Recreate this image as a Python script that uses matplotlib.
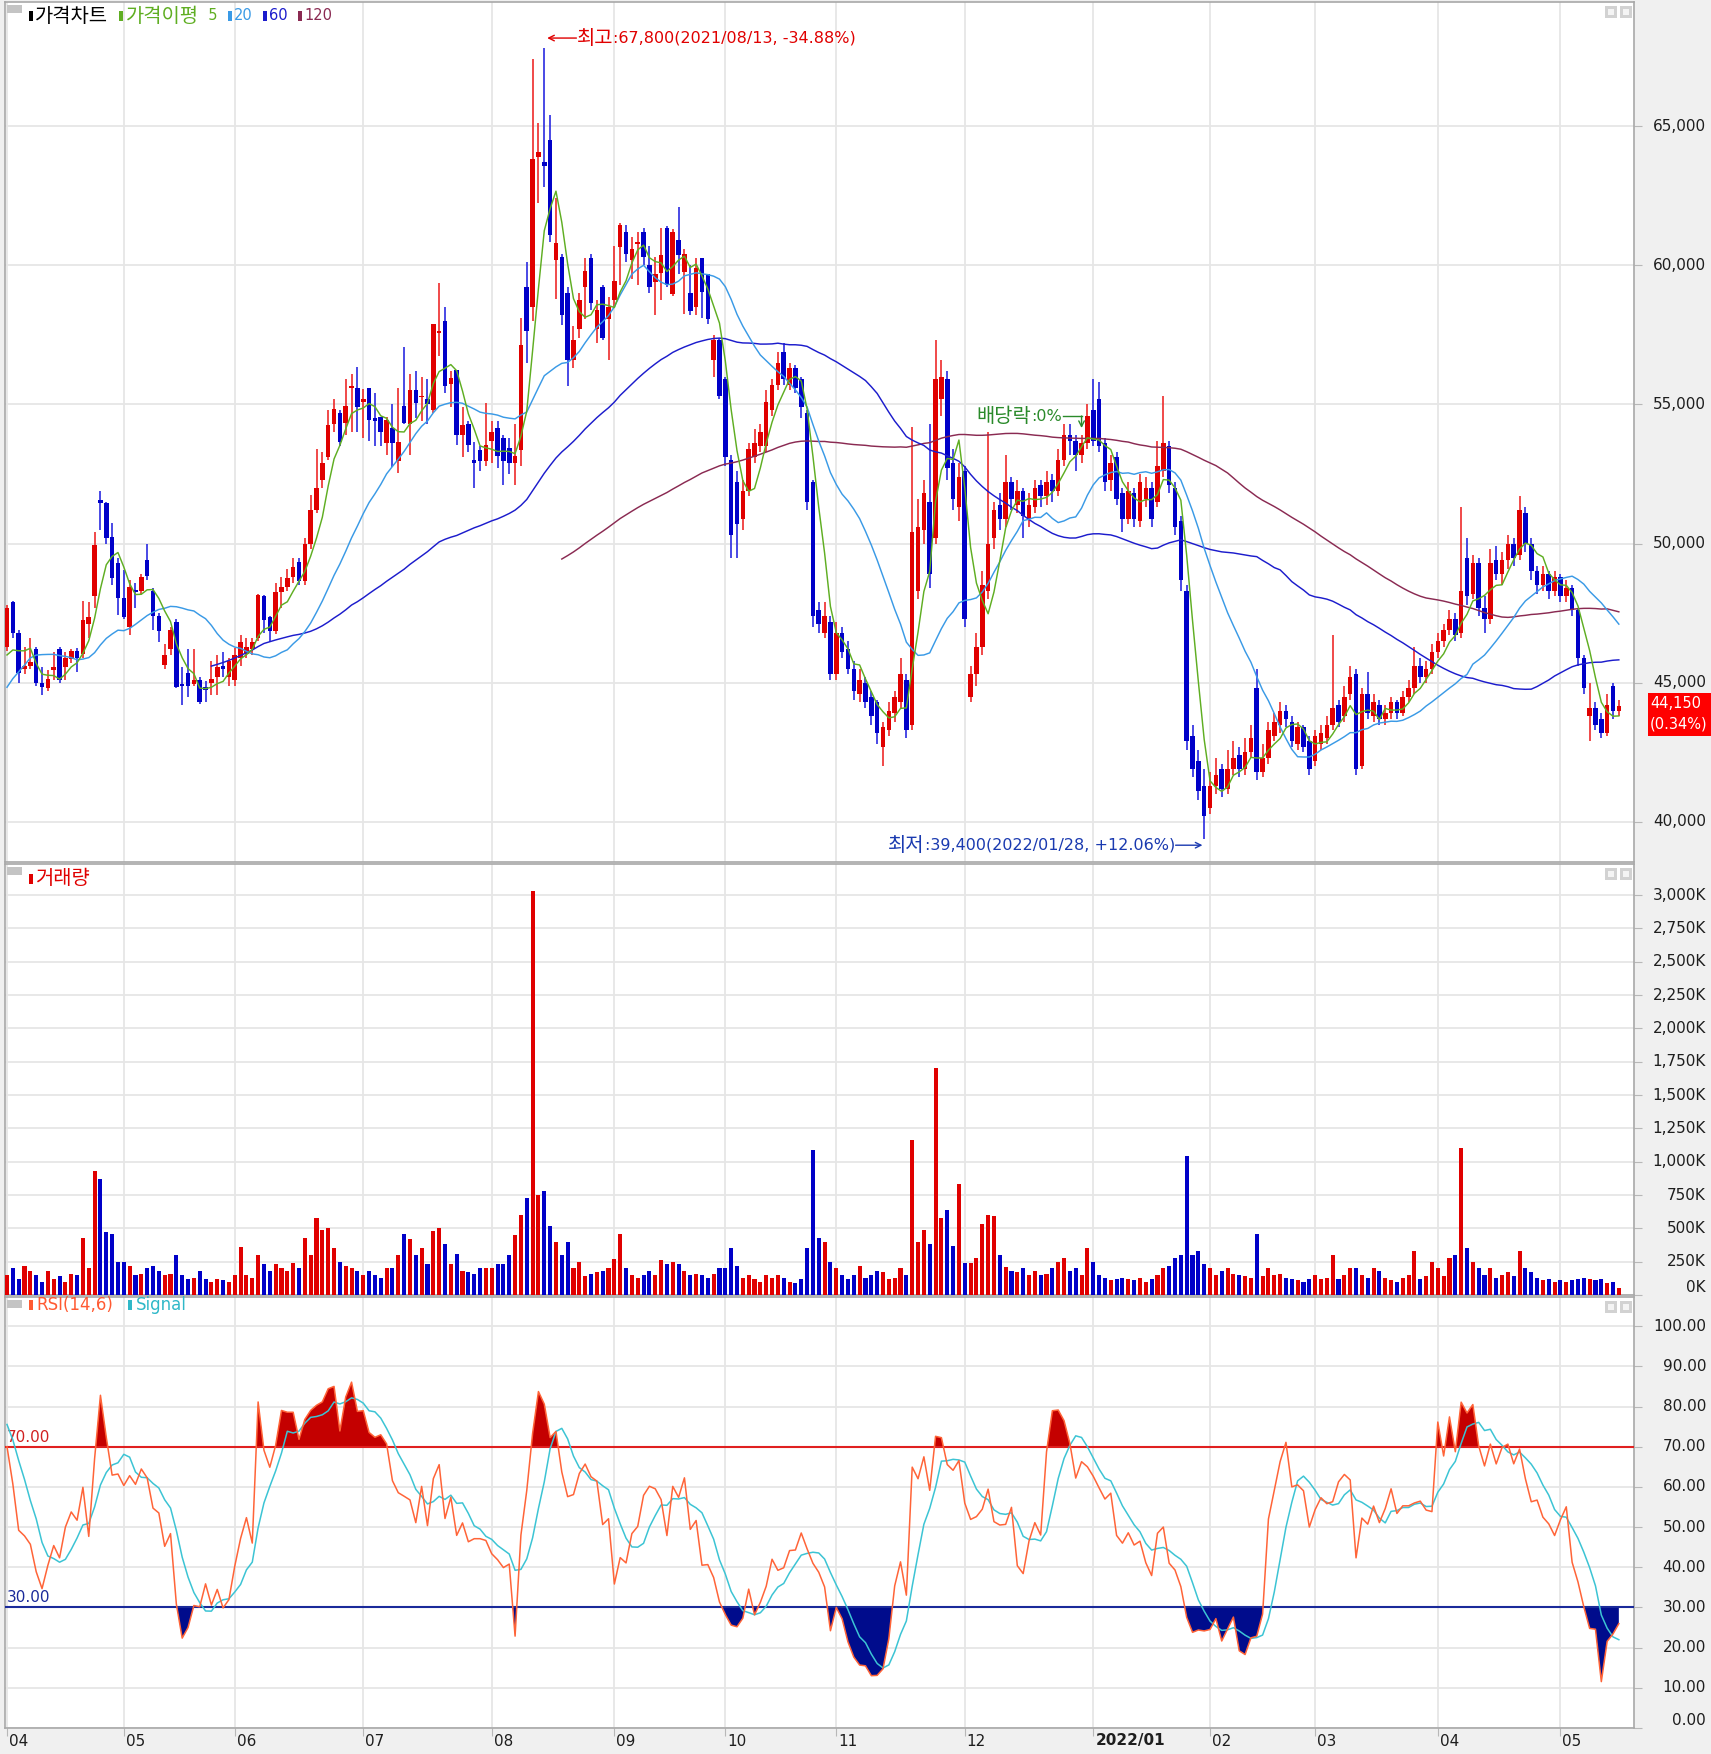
import numpy as np
import pandas as pd
import matplotlib
matplotlib.use('Agg')
import matplotlib.pyplot as plt
from matplotlib.patches import Rectangle
from matplotlib import font_manager
import matplotlib.transforms as mtransforms

# ---------------- data ----------------
month_labels = ['04', '05', '06', '07', '08', '09', '10', '11', '12', '2022/01', '02', '03', '04', '05']
month_start_idx = [0, 20, 39, 61, 83, 104, 123, 142, 164, 186, 206, 224, 245, 266]

# closes of the bars loaded before the visible window (only feed the averages / RSI)
pre_close = [41800, 41500, 41200, 41000, 40800, 40600, 40500, 40700, 40600, 43000, 44500, 45000,
             45500, 46000, 46500, 47000, 47500, 46700, 46300, 46400, 45900, 45500, 45600, 45300]

opens = [
    46300, 47900, 46800, 45500, 45600, 46200, 45000, 44800, 45450, 46200, 45550, 45850, 46150, 46050, 47100, 48100, 51550, 51450, 50250, 49300,
    48050, 47000, 48350, 48300, 49400, 48300, 47400, 45650, 46200, 47200, 44950, 45350, 44950, 45100, 44850, 45000, 45200, 45600, 45200,
    45100, 45900, 46050, 46200, 46600, 48100, 47350, 46850, 48250, 48450, 48800, 49350, 48650, 50000, 51200, 52300, 53100, 54300, 54700, 54350, 55600, 55600,
    55100, 55600, 54500, 54550, 53600, 54150, 52950, 54950, 54300, 55500, 55250, 55200, 54800, 57550, 58000, 55750, 56250, 53900, 54300, 53000, 53350, 52950,
    53700, 54150, 53800, 53450, 52900, 53350, 59200, 58500, 63900, 63700, 64500, 60200, 60300, 59000, 56600, 57700, 59200, 60250, 57700, 59200, 58050,
    58750, 60650, 61200, 60200, 60750, 61200, 60000, 59400, 59720, 61330, 58950, 60900, 59750, 59000, 58500, 60250, 59700, 56600, 57300,
    55900, 53000, 52200, 50900, 51900, 53100, 53500, 53500, 54800, 55700, 56900, 55700, 56300, 55900, 54700, 52200, 47600, 46800, 47200,
    45300, 46800, 46200, 45500, 44600, 45000, 44500, 44300, 42700, 43300, 43900, 44300, 45100, 43500, 48300, 50500, 51500, 50200, 55200, 55900, 52900, 51300,
    52600, 44500, 45300, 46300, 48300, 50200, 51400, 50900, 52200, 51400, 51900, 50900, 51300, 52100, 51700, 52300, 51900, 53000, 53900, 53700, 53200, 53600,
    54800, 55200, 53600, 52300, 53100, 51800, 50900, 51800, 50800, 51600, 52000, 51500, 52600, 53500, 52000, 50800, 48300, 43100, 42200, 41300,
    40500, 41300, 41900, 41200, 41900, 42400, 41900, 42500, 44800, 41800, 42300, 43100, 43500, 44000, 43600, 42800, 43400, 42900,
    42200, 42800, 43000, 43500, 44200, 43800, 44600, 45300, 42000, 44600, 43800, 44200, 43700, 43900, 44300, 43900, 44500, 44800, 45600, 45200, 45500,
    46100, 46500, 46900, 47300, 46800, 49500, 48200, 49300, 47700, 47300, 49400, 48900, 49400, 50000, 49600, 51100, 50000, 49000, 48500, 48900, 48300,
    48800, 48100, 48400, 47600, 45900, 43800, 44100, 43700, 43200, 44900, 44000]

highs = [
    47800, 47950, 46900, 46300, 46600, 46300, 45550, 45450, 46100, 46300, 46100, 46200, 46250, 47950, 47900, 50400, 51900, 51500, 50750, 49500,
    49050, 48700, 48600, 48900, 50000, 48400, 47500, 46400, 47000, 47300, 45550, 46200, 46200, 45200, 45050, 45800, 46000, 46100, 45900,
    46250, 46700, 46600, 46600, 48200, 48150, 47400, 48600, 48800, 49100, 49500, 49500, 50200, 51750, 53400, 53300, 54800, 55200, 54800, 55900, 56100, 56350,
    55550, 55600, 55400, 54550, 54550, 55000, 55600, 57050, 56100, 56200, 56000, 55900, 57900, 59350, 58500, 56200, 56250, 54900, 54400, 53650, 53500, 55050,
    54400, 54400, 53900, 53800, 54300, 58100, 60100, 67400, 65100, 67800, 65400, 62400, 60400, 59200, 57800, 59000, 60250, 60400, 58750, 59300, 58850,
    60700, 61500, 61450, 61000, 61200, 61350, 60700, 60300, 61350, 61400, 61300, 62100, 60600, 60000, 60250, 60250, 59700, 57500, 57400,
    56000, 53200, 52600, 52300, 53600, 54100, 54300, 55500, 55900, 56900, 57200, 56500, 56400, 56000, 54800, 52300, 47900, 47900, 47400,
    47200, 47000, 46500, 45800, 45500, 45200, 44700, 44400, 43600, 44300, 44700, 45900, 45300, 54200, 51600, 52300, 54300, 57300, 56600, 56200, 53400, 52900,
    52800, 45600, 46800, 49000, 54000, 51500, 51800, 53200, 52400, 52300, 52000, 51800, 52300, 52300, 52600, 52500, 53400, 54300, 54300, 53900, 53900, 55000,
    55900, 55800, 53800, 53200, 53300, 52000, 52200, 52000, 52500, 52400, 52200, 53700, 55300, 53700, 52200, 51000, 48500, 43500, 42600, 41900,
    41800, 42300, 42100, 42600, 42900, 42700, 43000, 43500, 45500, 42800, 43600, 43900, 44300, 44200, 43800, 43600, 43500, 43100,
    43300, 43500, 43800, 46700, 44400, 44900, 45600, 45500, 44800, 45400, 44600, 44400, 44200, 44500, 44400, 44700, 45100, 46300, 45900, 45800, 46400,
    46800, 47100, 47600, 47500, 51300, 50200, 49600, 49500, 48100, 49800, 49900, 49700, 50300, 50200, 51700, 51300, 50200, 49200, 49200, 49000, 49000,
    48900, 48700, 48500, 47700, 46000, 45000, 44300, 43900, 44600, 45000, 44400]

lows = [
    46150, 46600, 45000, 45300, 45500, 44900, 44550, 44700, 45100, 45000, 45100, 45700, 45400, 45900, 46600, 47700, 50500, 50000, 48500, 47450,
    47300, 46700, 47700, 48200, 48700, 46900, 46450, 45500, 46000, 44800, 44200, 44500, 44900, 44250, 44300, 44550, 44550, 45200, 44900,
    44900, 45600, 45900, 46000, 46500, 46800, 46450, 46750, 47700, 48300, 48600, 48500, 48500, 49800, 51100, 52000, 53000, 54000, 53500, 53900, 54000, 54000,
    53800, 53700, 53500, 53500, 53200, 52750, 52550, 54300, 53200, 54500, 54400, 54300, 54700, 56750, 55400, 54900, 53550, 53100, 53300, 52000, 52600, 52800,
    52900, 52700, 52100, 52500, 52100, 52800, 56500, 58000, 62250, 62800, 60850, 58800, 57850, 55650, 56300, 57400, 58050, 58400, 57200, 57300, 56600,
    58500, 59300, 60100, 59500, 59300, 60000, 59000, 58200, 58750, 59200, 58900, 59700, 58250, 58200, 58200, 58100, 57900, 56000, 55200,
    52800, 49500, 49500, 50500, 51700, 52900, 53300, 53300, 54600, 55500, 55700, 55500, 55400, 54500, 51200, 47000, 46800, 46600, 45100,
    45100, 45900, 45300, 44400, 44300, 44100, 43500, 42800, 42000, 43100, 43600, 44100, 43000, 43300, 48000, 50000, 48400, 50000, 54600, 52300, 51200, 50800,
    47000, 44300, 44900, 46000, 48000, 49800, 50500, 50600, 51200, 51100, 50200, 50600, 51100, 51300, 51400, 51500, 51700, 52800, 53200, 52600, 52900, 53400,
    53500, 53300, 51900, 51900, 51400, 50400, 50700, 50600, 50600, 51300, 50600, 51300, 52400, 51800, 50300, 48300, 42600, 41600, 40800, 39400,
    40300, 41000, 40900, 41000, 41700, 41600, 41700, 42300, 41500, 41600, 42100, 42900, 43200, 43400, 42700, 42600, 42500, 41700,
    42000, 42600, 42800, 43300, 43400, 43600, 44400, 41700, 41900, 43700, 43600, 43500, 43500, 43700, 43700, 43800, 44300, 44600, 45000, 45000, 45300,
    45900, 46300, 46700, 46500, 46600, 47800, 48000, 47400, 46800, 47100, 48700, 48500, 49100, 49200, 49400, 49700, 48700, 48200, 48300, 48000, 48100,
    47900, 47900, 47400, 45600, 44600, 42900, 43300, 43000, 43100, 43700, 43800]

closes = [
    47700, 46800, 45350, 45600, 45750, 45000, 44850, 45150, 45550, 45100, 45900, 46150, 45900, 47250, 47350, 49950, 51450, 50200, 48750, 48050,
    47350, 48450, 48250, 48800, 48850, 47400, 46850, 46000, 46900, 44850, 44900, 44900, 45100, 44300, 44750, 45150, 45550, 45500, 45800,
    46000, 46450, 46300, 46450, 48150, 47250, 46850, 48250, 48450, 48750, 49150, 48650, 50000, 51200, 52000, 52900, 54250, 54850, 53650, 54950, 55650, 54900,
    55200, 54450, 54400, 54000, 54450, 53600, 53650, 54350, 55500, 55050, 55300, 55000, 57900, 57650, 55650, 55950, 53900, 54250, 53550, 52900, 52950, 53550,
    54000, 53150, 52950, 52900, 53150, 57150, 57650, 63800, 64050, 63550, 61100, 60800, 58200, 56600, 57300, 58750, 59800, 58650, 58400, 57400, 58500,
    59450, 61450, 60400, 60600, 60850, 60300, 59200, 59700, 60370, 59300, 61200, 60350, 60400, 58350, 59900, 59050, 58050, 57300, 55300,
    53100, 50300, 50700, 51900, 53400, 53600, 54000, 55100, 55700, 56500, 55900, 56300, 55600, 54900, 51500, 47400, 47100, 47400, 45300,
    46800, 46100, 45500, 44700, 45100, 44300, 43800, 43200, 43400, 44000, 44500, 45300, 43300, 50400, 50600, 51800, 48900, 55900, 56000, 52700, 51600, 52400,
    47300, 45300, 46300, 48500, 50000, 51200, 50900, 52200, 51600, 51900, 51000, 51400, 52000, 51700, 52200, 51900, 53000, 53900, 53700, 53200, 53600, 54600,
    53700, 53500, 52200, 52900, 51600, 50900, 51900, 50900, 52200, 52000, 50900, 52800, 53600, 52100, 50600, 48700, 42900, 41900, 41100, 40200,
    41300, 41700, 41200, 41900, 42300, 41900, 42500, 43000, 41800, 42300, 43300, 43600, 44000, 43700, 42900, 43400, 42700, 41900,
    43100, 43200, 43500, 44100, 43600, 44500, 45200, 41900, 44600, 43900, 44300, 43700, 43900, 44300, 43900, 44500, 44800, 45600, 45200, 45500, 46100,
    46500, 46900, 47300, 46700, 48300, 48100, 49300, 47700, 47300, 49300, 48900, 49400, 50000, 49500, 51200, 50000, 49000, 48500, 48900, 48300, 48800,
    48100, 48400, 47600, 45900, 44800, 44100, 43500, 43200, 44200, 44000, 44150]

volumes_k = [
    150, 200, 120, 220, 180, 150, 100, 180, 120, 140, 100, 160, 150, 430, 200, 930, 870, 470, 460, 250,
    250, 220, 150, 160, 200, 220, 180, 150, 160, 300, 150, 120, 130, 180, 120, 100, 120, 110, 100,
    150, 360, 150, 130, 300, 230, 180, 230, 200, 180, 240, 200, 430, 300, 580, 490, 500, 350, 250, 220, 200, 180,
    150, 180, 150, 130, 200, 200, 300, 460, 420, 300, 350, 230, 480, 500, 380, 230, 310, 180, 170, 160, 200, 200,
    200, 230, 230, 300, 450, 600, 730, 3030, 750, 780, 520, 400, 300, 400, 200, 250, 140, 160, 170, 180, 200,
    270, 460, 200, 150, 130, 150, 180, 150, 260, 230, 250, 230, 180, 150, 160, 150, 130, 160, 200,
    200, 350, 220, 130, 150, 120, 100, 150, 130, 150, 130, 100, 90, 120, 350, 1090, 430, 400, 250,
    200, 150, 120, 150, 220, 130, 150, 180, 170, 120, 130, 200, 150, 1160, 400, 490, 380, 1700, 580, 640, 370, 830,
    240, 240, 280, 530, 600, 590, 300, 210, 180, 170, 200, 150, 180, 150, 160, 200, 250, 280, 180, 200, 150, 350,
    250, 150, 130, 110, 120, 130, 120, 110, 130, 100, 120, 150, 200, 220, 280, 300, 1040, 300, 330, 230,
    200, 150, 180, 200, 160, 150, 140, 130, 460, 140, 200, 150, 160, 130, 120, 110, 100, 120,
    150, 120, 130, 300, 120, 150, 200, 200, 150, 130, 200, 180, 130, 110, 100, 130, 150, 330, 120, 140, 250,
    200, 140, 280, 300, 1100, 350, 250, 200, 150, 200, 130, 150, 170, 140, 330, 200, 170, 130, 110, 120, 100,
    110, 100, 110, 120, 130, 120, 110, 120, 90, 100, 50]

high_date = '2021/08/13'
low_date = '2022/01/28'
ex_div_idx = 184

# ---------------- indicators ----------------
npre = len(pre_close)
s = pd.Series(np.array(pre_close + closes, dtype=float))
ma = {k: s.rolling(k).mean().to_numpy()[npre:] for k in (5, 20, 60, 120)}
d = s.diff()
up = d.clip(lower=0).rolling(14).mean()
dn = (-d.clip(upper=0)).rolling(14).mean()
rsi_all = 100 * up / (up + dn)
rsi = rsi_all.to_numpy()[npre:]
sig = rsi_all.rolling(6).mean().to_numpy()[npre:]

O = np.array(opens, float); Hh = np.array(highs, float); L = np.array(lows, float); C = np.array(closes, float)
V = np.array(volumes_k, float)
n = len(C)
idx = np.arange(n)

# ---------------- fonts ----------------
W, H = 1711, 1754
names = {f.name for f in font_manager.fontManager.ttflist}
HAS_NARROW = 'Liberation Sans Narrow' in names
NARROW = 'Liberation Sans Narrow' if HAS_NARROW else 'DejaVu Sans'
KR = 'Noto Sans CJK KR'
FAM = [NARROW, KR, 'DejaVu Sans']
plt.rcParams['font.family'] = FAM
LBL_FS = 14.5 if HAS_NARROW else 11
ASC_FS = 13 if HAS_NARROW else 10.5      # small ascii legend text
ANN_FS = 15.5 if HAS_NARROW else 11.5    # ascii part of annotations
KFS = 14.3                               # hangul text
RSI_LEG_FS = 16.5 if HAS_NARROW else 12

RED = '#e00000'; BLUE = '#0000c8'
C5 = '#5fae22'; C20 = '#3a9ae6'; C60 = '#1c1ccc'; C120 = '#8a2a52'
GRID = '#e6e6e6'; SPINE = '#a8a8a8'

fig = plt.figure(figsize=(W / 100, H / 100), dpi=100, facecolor='#f0f0f0')
renderer = fig.canvas.get_renderer()


def axes_px(x0, y0, x1, y1):
    return fig.add_axes([x0 / W, 1 - y1 / H, (x1 - x0) / W, (y1 - y0) / H])


X0, X1 = 5, 1634
PANELS = {'p': (2, 862), 'v': (864, 1295), 'r': (1297, 1728)}
ax_p = axes_px(X0, PANELS['p'][0], X1, PANELS['p'][1])
ax_v = axes_px(X0, PANELS['v'][0], X1, PANELS['v'][1])
ax_r = axes_px(X0, PANELS['r'][0], X1, PANELS['r'][1])

BAR_PX = 5.84
FIRST_PX = 7
xlim = ((X0 - FIRST_PX) / BAR_PX, (X1 - FIRST_PX) / BAR_PX)

WON_PX = 35.92          # won per pixel, 40,000 sits at y=822 px
def price_at(ypx):
    return 40000 + (822 - ypx) * WON_PX
price_lim = (price_at(PANELS['p'][1]), price_at(PANELS['p'][0]))
vol_lim = (0, (PANELS['v'][1] - PANELS['v'][0]) * 7.5)
rsi_lim = (100 - (1726 - PANELS['r'][1]) * 0.25, 100 + (1326 - PANELS['r'][0]) * 0.25)

price_ticks = [40000, 45000, 50000, 55000, 60000, 65000]
vol_ticks = list(range(0, 3001, 250))
rsi_ticks = list(range(0, 101, 10))

for ax, yl, yt in ((ax_p, price_lim, price_ticks), (ax_v, vol_lim, vol_ticks), (ax_r, rsi_lim, rsi_ticks)):
    ax.set_facecolor('white')
    ax.set_xlim(*xlim)
    ax.set_ylim(*yl)
    ax.set_xticks(month_start_idx)
    ax.set_yticks(yt)
    ax.grid(True, color=GRID, lw=1.3, zorder=0)
    ax.set_axisbelow(True)
    ax.yaxis.set_ticks_position('right')
    ax.tick_params(axis='y', which='both', length=6, color='#b8b8b8', labelright=False, labelleft=False)
    ax.tick_params(axis='x', which='both', length=0, labelbottom=False)
    for sp in ax.spines.values():
        sp.set_color(SPINE)
        sp.set_linewidth(1.2)
ax_r.tick_params(axis='x', length=6, color='#b8b8b8', direction='out')


def mixed_text(x_px, y_px, parts, color, ha='left', z=21):
    """Draw consecutive text pieces (different sizes) on one line; coords in px from top-left."""
    objs = [fig.text(0, 0, s_, fontsize=fs, color=color, ha='left', va='center', family=FAM, zorder=z)
            for s_, fs in parts]
    widths = [t.get_window_extent(renderer).width for t in objs]
    x = x_px - (sum(widths) if ha == 'right' else 0)
    for t, w_ in zip(objs, widths):
        t.set_position((x / W, 1 - y_px / H))
        x += w_
    return x


def data_px(ax, xv, yv):
    dx, dy = ax.transData.transform((xv, yv))
    return dx, H - dy


# ---------------- price panel ----------------
is_up = C >= O
col = np.where(is_up, RED, BLUE)
wick_col = np.where(is_up, '#ee2a2a', '#2a2ae0')
ax_p.vlines(idx, L, Hh, colors=wick_col, lw=1.2, zorder=3)
body_bottom = np.minimum(O, C)
body_h = np.maximum(np.abs(C - O), 45)
ax_p.bar(idx, body_h, bottom=body_bottom, width=0.78, color=col, lw=0, zorder=4)
for k, c in ((120, C120), (60, C60), (20, C20), (5, C5)):
    ax_p.plot(idx, ma[k], color=c, lw=1.05, zorder=5)

# high / low annotations
i_hi = int(np.argmax(Hh)); hi = int(Hh[i_hi])
i_lo = int(np.argmin(L)); lo = int(L[i_lo])
last = int(C[-1]); prev = int(C[-2])
y_hi = hi + 10 * WON_PX
ax_p.annotate('', xy=(i_hi + 0.5, y_hi), xytext=(i_hi + 5.5, y_hi),
              arrowprops=dict(arrowstyle='->', color=RED, lw=1.0, shrinkA=0, shrinkB=0))
tx, ty = data_px(ax_p, i_hi + 5.6, y_hi)
mixed_text(tx, ty, [('최고', KFS), (f':{hi:,}({high_date}, {(last / hi - 1) * 100:+.2f}%)', ANN_FS)], RED)

LOWC = '#1a3ab0'
y_lo = lo - 6.5 * WON_PX
ax_p.annotate('', xy=(i_lo - 0.3, y_lo), xytext=(i_lo - 4.9, y_lo),
              arrowprops=dict(arrowstyle='->', color=LOWC, lw=1.0, shrinkA=0, shrinkB=0))
tx, ty = data_px(ax_p, i_lo - 5.0, y_lo)
mixed_text(tx, ty, [('최저', KFS), (f':{lo:,}({low_date}, {(last / lo - 1) * 100:+.2f}%)', ANN_FS)], LOWC, ha='right')

# ex-dividend marker
GREEN_T = '#2a8a2a'
y_div = Hh[ex_div_idx] + 19 * WON_PX
ax_p.plot([ex_div_idx - 3.2, ex_div_idx], [y_div, y_div], color=GREEN_T, lw=1.0)
ax_p.annotate('', xy=(ex_div_idx, y_div - 12 * WON_PX), xytext=(ex_div_idx, y_div),
              arrowprops=dict(arrowstyle='->', color=GREEN_T, lw=1.0, shrinkA=0, shrinkB=0))
tx, ty = data_px(ax_p, ex_div_idx - 3.3, y_div)
mixed_text(tx, ty, [('배당락', KFS), (':0%', ANN_FS)], GREEN_T, ha='right')

# ---------------- volume panel ----------------
ax_v.bar(idx, V, width=0.7, color=col, lw=0, zorder=3)

# ---------------- RSI panel ----------------
ax_r.fill_between(idx, rsi, 70, where=rsi > 70, interpolate=True, color='#c40000', lw=0, zorder=2)
ax_r.fill_between(idx, rsi, 30, where=rsi < 30, interpolate=True, color='#000c8c', lw=0, zorder=2)
ax_r.axhline(70, color='#e02020', lw=1.5, zorder=3)
ax_r.axhline(30, color='#1a2a9a', lw=1.5, zorder=3)
ax_r.plot(idx, sig, color='#3cc4d4', lw=1.1, zorder=4)
ax_r.plot(idx, rsi, color='#ff6438', lw=1.1, zorder=5)
ax_r.text(xlim[0] + 0.3, 70.5, '70.00', color='#d02020', fontsize=LBL_FS, ha='left', va='bottom')
ax_r.text(xlim[0] + 0.3, 30.5, '30.00', color='#1a2a9a', fontsize=LBL_FS, ha='left', va='bottom')

# ---------------- right-side labels ----------------
RX = 1706 / W
for ax, ticks, fmt in ((ax_p, price_ticks, lambda v: f'{v:,}'),
                       (ax_v, vol_ticks, lambda v: f'{v:,}K'),
                       (ax_r, rsi_ticks, lambda v: f'{v:.2f}')):
    tr = mtransforms.blended_transform_factory(fig.transFigure, ax.transData)
    for v in ticks:
        va = 'bottom' if (v == 0 and ax is not ax_p) else 'center'
        ax.text(RX, v, fmt(v), transform=tr, ha='right', va=va, fontsize=LBL_FS, color='#1e1e1e', clip_on=False)

# current price box
trp = mtransforms.blended_transform_factory(fig.transFigure, ax_p.transData)
box_top = last + 13.5 * WON_PX
box_bot = last - 29.5 * WON_PX
ax_p.add_patch(Rectangle((1648 / W, box_bot), 63 / W, box_top - box_bot, transform=trp,
                         facecolor='#ff0000', edgecolor='none', clip_on=False, zorder=10))
ax_p.text(1650 / W, last + 3 * WON_PX, f'{last:,}', transform=trp, color='white', fontsize=LBL_FS - 0.5,
          ha='left', va='center', clip_on=False, zorder=11)
ax_p.text(1650 / W, last - 18 * WON_PX, f'({(last / prev - 1) * 100:.2f}%)', transform=trp, color='white',
          fontsize=LBL_FS - 0.5, ha='left', va='center', clip_on=False, zorder=11)

# ---------------- month labels ----------------
trx = mtransforms.blended_transform_factory(ax_r.transData, fig.transFigure)
for m, lab in zip(month_start_idx, month_labels):
    ax_r.text(m + 0.35, 1 - 1741 / H, lab, transform=trx, ha='left', va='center', fontsize=LBL_FS,
              color='#1e1e1e', fontweight='bold' if '/' in lab else 'normal', clip_on=False)

# ---------------- panel headers / legends ----------------
def rect_px(x0, y0, x1, y1, color, z=20):
    fig.patches.append(Rectangle((x0 / W, 1 - y1 / H), (x1 - x0) / W, (y1 - y0) / H,
                                 transform=fig.transFigure, facecolor=color, edgecolor='none', zorder=z))

for top in (PANELS['p'][0], PANELS['v'][0], PANELS['r'][0]):
    rect_px(7, top + 3, 22, top + 11, '#c4c4c4')
    for xx in (1605, 1620):
        rect_px(xx, top + 4, xx + 12, top + 16, '#d2d2d2')
        rect_px(xx + 3, top + 7, xx + 9, top + 13, '#f4f4f4')

legend_items = [(29, [('가격차트', KFS)], '#000000', 35),
                (119, [('가격이평', KFS), ('  5', ASC_FS)], C5, 126),
                (228, [('20', ASC_FS)], C20, 234),
                (263, [('60', ASC_FS)], C60, 269),
                (298, [('120', ASC_FS)], C120, 304)]
for rx, parts, c, tx in legend_items:
    rect_px(rx, 11, rx + 4, 21, c)
    mixed_text(tx, 16, parts, c)

rect_px(29, 874, 33, 884, RED)
mixed_text(35, 879, [('거래량', KFS)], RED)
rect_px(29, 1300, 33, 1310, '#ff5a32')
mixed_text(36, 1305, [('RSI(14,6)', RSI_LEG_FS)], '#ff5a32')
rect_px(128, 1300, 132, 1310, '#30b8c8')
mixed_text(136, 1305, [('Signal', RSI_LEG_FS)], '#30b8c8')

fig.savefig('out.png', dpi=100, facecolor=fig.get_facecolor())
